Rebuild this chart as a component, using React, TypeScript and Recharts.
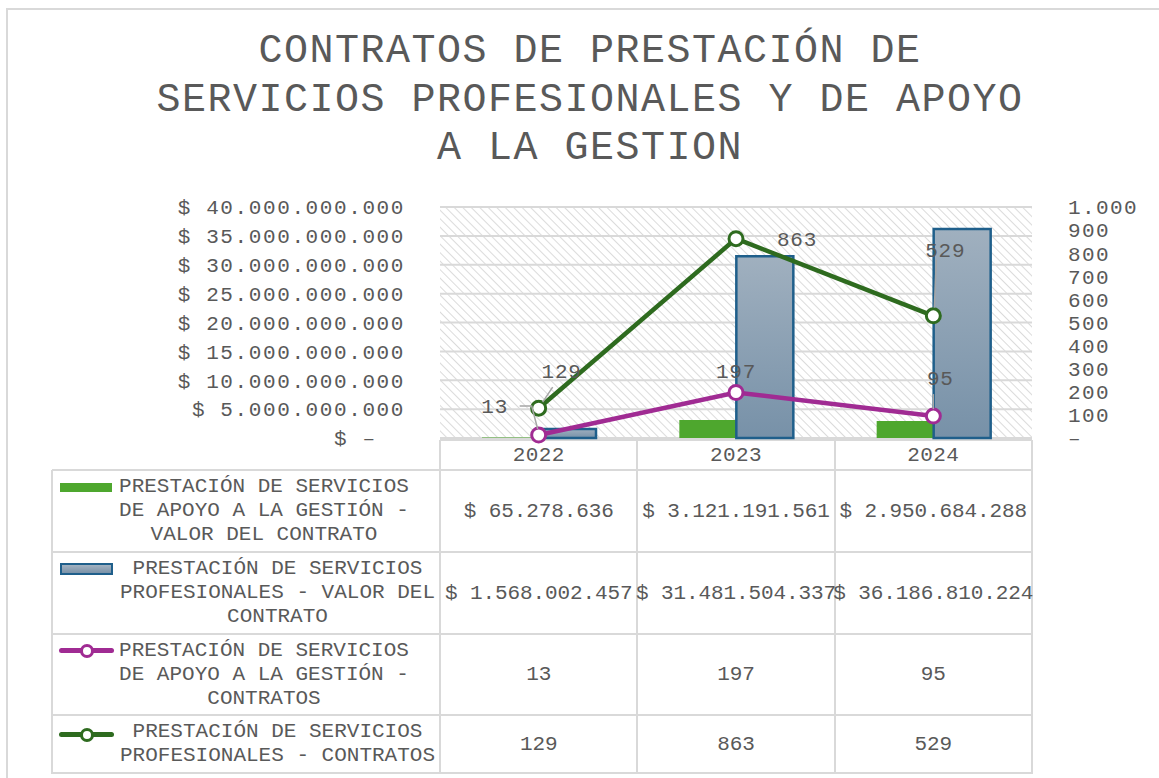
import React from 'react';
import { ComposedChart, Bar, Line, XAxis, YAxis, CartesianGrid, LabelList } from 'recharts';

// ---------- data ----------
const years = ['2022', '2023', '2024'];
const apoyoValor = [65278636, 3121191561, 2950684288];
const profValor = [1568002457, 31481504337, 36186810224];
const apoyoContratos = [13, 197, 95];
const profContratos = [129, 863, 529];
const leftTicks = [0, 5e9, 10e9, 15e9, 20e9, 25e9, 30e9, 35e9, 40e9];
const rightTicks = [0, 100, 200, 300, 400, 500, 600, 700, 800, 900, 1000];

const titleLines = ['CONTRATOS DE PRESTACIÓN DE', 'SERVICIOS PROFESIONALES Y DE APOYO', 'A LA GESTION'];
const rowLabels = [
  ['PRESTACIÓN DE SERVICIOS', 'DE APOYO A LA GESTIÓN -', 'VALOR DEL CONTRATO'],
  ['PRESTACIÓN DE SERVICIOS', 'PROFESIONALES - VALOR DEL', 'CONTRATO'],
  ['PRESTACIÓN DE SERVICIOS', 'DE APOYO A LA GESTIÓN -', 'CONTRATOS'],
  ['PRESTACIÓN DE SERVICIOS', 'PROFESIONALES - CONTRATOS'],
];

const data = years.map((y, i) => ({
  year: y,
  apoyoValor: apoyoValor[i],
  profValor: profValor[i],
  apoyoContratos: apoyoContratos[i],
  profContratos: profContratos[i],
}));

// ---------- styles ----------
const FONT = "'Liberation Mono', 'Courier New', monospace";
const TXT = '#595959';
const GRID = '#d9d9d9';
const GREEN_BAR = '#4ea72e';
const BLUE_STROKE = '#1f5f8b';
const GREEN_LINE = '#2e6b1f';
const PURPLE = '#a02b93';
const LEADER = '#a6a6a6';

const W = 1159;
const PLOT_L = 440;
const PLOT_R = 1032;
const CHART_H = 472;

// label placement (offsets from point)
const apoyoLabelCfg = [
  { dx: -44, dy: -29, leader: [[-19, -29], [-7, -29], [-1, -6]] },
  { dx: 0, dy: -22 },
  { dx: 7, dy: -38, leader: [[0, -22], [0, -7]] },
];
const profLabelCfg = [
  { dx: 23, dy: -38, leader: [[14, -21], [4, -6]] },
  { dx: 61, dy: 0 },
  { dx: 12, dy: -66, leader: [[3, -56], [1, -8]] },
];

const fmtThousands = (n: number) => String(Math.round(n)).replace(/\B(?=(\d{3})+(?!\d))/g, '.');
const fmtMoney = (n: number) => (n === 0 ? '$ –\u00a0\u00a0' : '$ ' + fmtThousands(n));
const fmtCount = (n: number) => (n === 0 ? '–' : fmtThousands(n));

const makeLabel = (cfg: any[]) => (props: any) => {
  const { x, y, value, index } = props;
  const c = cfg[index];
  if (!c || x == null || y == null) return null;
  const pts = c.leader ? c.leader.map((p: number[]) => `${x + p[0]},${y + p[1]}`).join(' ') : null;
  return (
    <g>
      {pts && <polyline points={pts} fill="none" stroke={LEADER} strokeWidth={1.5} />}
      <text x={x + c.dx} y={y + c.dy} dy="0.35em" textAnchor="middle" fill={TXT}
        style={{ fontFamily: FONT, fontSize: 21, letterSpacing: 0.8 }}>
        {value}
      </text>
    </g>
  );
};

const LeftTick = (props: any) => {
  const { x, y, payload } = props;
  return (
    <text x={x} y={y} dy="0.35em" textAnchor="end" fill={TXT}
      style={{ fontFamily: FONT, fontSize: 21, letterSpacing: 1.6 }}>
      {fmtMoney(payload.value)}
    </text>
  );
};
const RightTick = (props: any) => {
  const { x, y, payload } = props;
  return (
    <text x={x} y={y} dy="0.35em" textAnchor="start" fill={TXT}
      style={{ fontFamily: FONT, fontSize: 21, letterSpacing: 1.4 }}>
      {fmtCount(payload.value)}
    </text>
  );
};
const BottomTick = (props: any) => {
  const { x, y, payload } = props;
  return (
    <text x={x} y={y} dy="0.71em" textAnchor="middle" fill={TXT}
      style={{ fontFamily: FONT, fontSize: 21, letterSpacing: 0.4 }}>
      {payload.value}
    </text>
  );
};

const hLine = (x1: number, x2: number, y: number, key: string) => (
  <div key={key} style={{ position: 'absolute', left: x1, top: y - 1, width: x2 - x1, height: 2, background: GRID }} />
);
const vLine = (x: number, y1: number, y2: number, key: string) => (
  <div key={key} style={{ position: 'absolute', left: x - 1, top: y1, width: 2, height: y2 - y1, background: GRID }} />
);

export default function App() {
  const colW = (PLOT_R - PLOT_L) / years.length;
  const colX = years.map((_, i) => PLOT_L + i * colW);
  const rowY = [470, 552, 634, 715, 773];
  const tableLeft = 52;
  const valueRows = [apoyoValor.map(fmtMoney), profValor.map(fmtMoney), apoyoContratos.map(fmtThousands), profContratos.map(fmtThousands)];
  const labelBoxes = [
    { left: 118, width: 292 },
    { left: 118, width: 319 },
    { left: 118, width: 292 },
    { left: 118, width: 319 },
  ];

  const lines: any[] = [];
  lines.push(hLine(PLOT_L, PLOT_R, 440, 'hh'));
  rowY.forEach((y, i) => lines.push(hLine(tableLeft, PLOT_R + 1, y, 'h' + i)));
  lines.push(vLine(tableLeft, 470, 774, 'vl'));
  [...colX, PLOT_R].forEach((x, i) => lines.push(vLine(x, 440, 774, 'v' + i)));

  const icon = (i: number) => {
    const cy = (rowY[i] + rowY[i + 1]) / 2;
    if (i === 0) return <div style={{ position: 'absolute', left: 60, top: 483, width: 52, height: 9, background: GREEN_BAR }} />;
    if (i === 1)
      return (
        <div style={{ position: 'absolute', left: 60, top: 563, width: 49, height: 8, border: `2px solid ${BLUE_STROKE}`,
          background: 'linear-gradient(#a3b2c1, #7a92a8)' }} />
      );
    const color = i === 2 ? PURPLE : GREEN_LINE;
    const y = i === 2 ? 651 : 735;
    return (
      <div style={{ position: 'absolute', left: 59, top: y - 3, width: 55, height: 6 }}>
        <div style={{ position: 'absolute', left: 0, top: 0, width: 55, height: 5, background: color, borderRadius: 3 }} />
        <div style={{ position: 'absolute', left: 21, top: -4, width: 8, height: 8, borderRadius: '50%', background: '#fff', border: `3px solid ${color}` }} />
      </div>
    );
  };

  return (
    <div style={{ position: 'absolute', left: 0, top: 0, width: W, height: 778, overflow: 'hidden', background: '#fff' }}>
      {/* outer frame */}
      <div style={{ position: 'absolute', left: 6, top: 8, width: W, height: 800, borderTop: `2px solid ${GRID}`, borderLeft: `2px solid ${GRID}` }} />
      {/* title */}
      <div style={{ position: 'absolute', left: 90, top: 28, width: 1000, textAlign: 'center', fontFamily: FONT, fontSize: 40,
        letterSpacing: 1.5, lineHeight: '48.5px', color: TXT, whiteSpace: 'pre' }}>
        {titleLines.map((t, i) => <div key={i}>{t}</div>)}
      </div>
      {/* table lines */}
      {lines}
      {/* table rows */}
      {rowLabels.map((lab, i) => {
        const top = rowY[i];
        const h = rowY[i + 1] - rowY[i];
        return (
          <React.Fragment key={'r' + i}>
            {icon(i)}
            <div style={{ position: 'absolute', left: labelBoxes[i].left, width: labelBoxes[i].width, top, height: h, display: 'flex',
              flexDirection: 'column', justifyContent: 'center', alignItems: 'center', fontFamily: FONT, fontSize: 21,
              lineHeight: '24px', color: TXT, whiteSpace: 'pre', textAlign: 'center' }}>
              {lab.map((l, k) => <div key={k}>{l}</div>)}
            </div>
            {valueRows[i].map((v, j) => (
              <div key={'c' + j} style={{ position: 'absolute', left: colX[j], width: colW, top, height: h, display: 'flex',
                alignItems: 'center', justifyContent: 'center', fontFamily: FONT, fontSize: 21, color: TXT, whiteSpace: 'nowrap',
                letterSpacing: -0.1 }}>
                {v}
              </div>
            ))}
          </React.Fragment>
        );
      })}
      {/* chart */}
      <div style={{ position: 'absolute', left: 0, top: 0 }}>
        <ComposedChart width={W} height={CHART_H} data={data} margin={{ top: 207, right: 0, bottom: 0, left: 0 }} barGap={0}>
          <defs>
            <pattern id="hatch" patternUnits="userSpaceOnUse" width="6" height="6" patternTransform="rotate(-45)">
              <rect width="6" height="6" fill="#ffffff" />
              <line x1="0" y1="0" x2="0" y2="6" stroke="#d2d2d2" strokeWidth="1.6" />
            </pattern>
            <linearGradient id="blueGrad" x1="0" y1="0" x2="0" y2="1">
              <stop offset="0%" stopColor="#a0b0bf" />
              <stop offset="100%" stopColor="#7791a8" />
            </linearGradient>
          </defs>
          <CartesianGrid yAxisId="left" vertical={false} stroke={GRID} strokeWidth={2} fill="url(#hatch)" fillOpacity={1} />
          <XAxis dataKey="year" height={34} tickLine={false} axisLine={false} tickMargin={2} tick={<BottomTick />} interval={0} />
          <YAxis yAxisId="left" orientation="left" width={440} domain={[0, 40e9]} ticks={leftTicks} interval={0}
            axisLine={false} tickLine={false} tickMargin={29} tick={<LeftTick />} />
          <YAxis yAxisId="right" orientation="right" width={127} domain={[0, 1000]} ticks={rightTicks} interval={0}
            axisLine={false} tickLine={false} tickMargin={30} tick={<RightTick />} />
          <Bar yAxisId="left" dataKey="apoyoValor" barSize={57} fill={GREEN_BAR} isAnimationActive={false} />
          <Bar yAxisId="left" dataKey="profValor" barSize={57} fill="url(#blueGrad)" stroke={BLUE_STROKE} strokeWidth={2.5}
            isAnimationActive={false} />
          <Line yAxisId="right" dataKey="apoyoContratos" stroke={PURPLE} strokeWidth={4.5}
            dot={{ r: 7, fill: '#fff', stroke: PURPLE, strokeWidth: 3 }} isAnimationActive={false}>
            <LabelList dataKey="apoyoContratos" content={makeLabel(apoyoLabelCfg)} />
          </Line>
          <Line yAxisId="right" dataKey="profContratos" stroke={GREEN_LINE} strokeWidth={4.5}
            dot={{ r: 7, fill: '#fff', stroke: GREEN_LINE, strokeWidth: 3 }} isAnimationActive={false}>
            <LabelList dataKey="profContratos" content={makeLabel(profLabelCfg)} />
          </Line>
        </ComposedChart>
      </div>
    </div>
  );
}
